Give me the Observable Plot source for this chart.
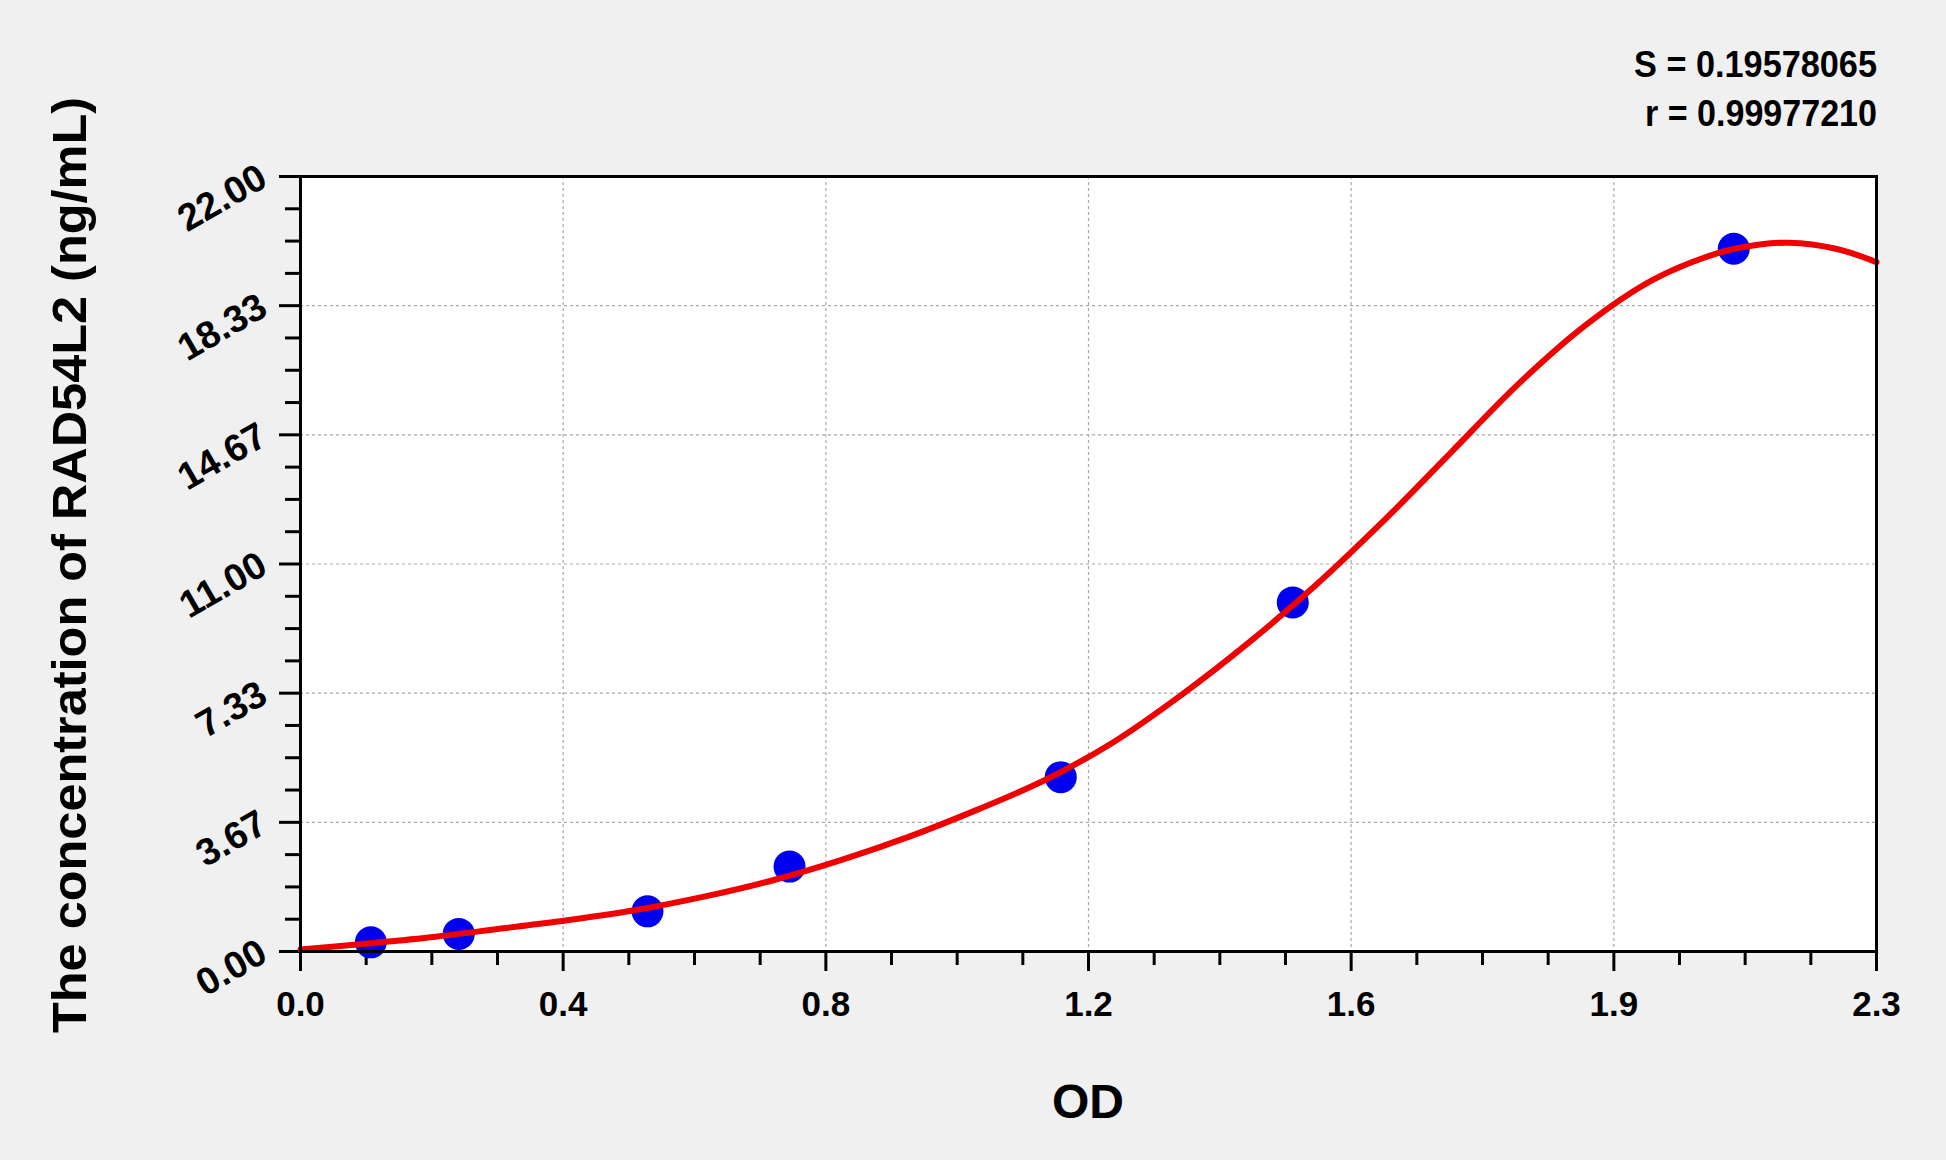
<!DOCTYPE html>
<html>
<head>
<meta charset="utf-8">
<script src="https://cdn.jsdelivr.net/npm/d3@7"></script>
<script src="https://cdn.jsdelivr.net/npm/@observablehq/plot@0.6"></script>
<style>
  html, body { margin: 0; padding: 0; background: #f0f0f0; overflow: hidden; }
  #chart svg { display: block; }
</style>
</head>
<body>
<div id="chart"></div>
<script>
// ---- data ----
const stdOD   = [0.104, 0.234, 0.513, 0.723, 1.124, 1.467, 2.119];
const stdConc = [0.26, 0.50, 1.14, 2.41, 4.95, 9.91, 19.95];

const curveOD   = [0, 0.1, 0.2, 0.3, 0.4, 0.5, 0.6, 0.7, 0.8, 0.9, 1.0, 1.1, 1.2, 1.3, 1.4, 1.5, 1.6, 1.7, 1.8, 1.9, 2.0, 2.1, 2.15, 2.2, 2.27, 2.33];
const curveConc = [0.06, 0.23, 0.42, 0.66, 0.90, 1.19, 1.57, 2.03, 2.60, 3.26, 4.02, 4.86, 5.92, 7.25, 8.74, 10.38, 12.20, 14.15, 16.10, 17.78, 19.07, 19.85, 20.05, 20.12, 19.95, 19.57];

const xTickValues = [0, 0.3883, 0.7767, 1.165, 1.5533, 1.9417, 2.33];
const xTickLabels = ["0.0", "0.4", "0.8", "1.2", "1.6", "1.9", "2.3"];
const yTickValues = [0, 3.6667, 7.3333, 11, 14.6667, 18.3333, 22];
const yTickLabels = ["0.00", "3.67", "7.33", "11.00", "14.67", "18.33", "22.00"];

const xTitle = "OD";
const yTitle = "The concentration of RAD54L2 (ng/mL)";
const statS = "S = 0.19578065";
const statR = "r = 0.99977210";

// ---- derived tables ----
const points = stdOD.map((x, i) => ({x, y: stdConc[i]}));
const curve = curveOD.map((x, i) => ({x, y: curveConc[i]}));
const xMinor = d3.range(0, 25).filter(i => i % 4 !== 0).map(i => 2.33 * i / 24);
const yMinor = d3.range(0, 25).filter(i => i % 4 !== 0).map(i => 22 * i / 24);

const font = "'Liberation Sans', Arial, Helvetica, sans-serif";

const chart = Plot.plot({
  width: 1946,
  height: 1160,
  marginLeft: 300,
  marginRight: 70,
  marginTop: 176,
  marginBottom: 209,
  style: {background: "#f0f0f0", fontFamily: font, color: "black", overflow: "visible"},
  x: {domain: [0, 2.33], label: null},
  y: {domain: [0, 22], label: null},
  marks: [
    Plot.frame({fill: "white", stroke: "none"}),
    Plot.gridX({ticks: xTickValues, stroke: "#a8a8a8", strokeOpacity: 1, strokeWidth: 1.2, strokeDasharray: "3,3"}),
    Plot.gridY({ticks: yTickValues, stroke: "#a8a8a8", strokeOpacity: 1, strokeWidth: 1.2, strokeDasharray: "3,3"}),
    Plot.axisX({ticks: xMinor, tickSize: 14, strokeWidth: 3, tickFormat: () => "", label: null}),
    Plot.axisX({ticks: xTickValues, tickSize: 20, strokeWidth: 3, tickPadding: 20,
      tickFormat: d => xTickLabels[xTickValues.indexOf(d)],
      fontSize: 35, fontWeight: "bold", label: null}),
    Plot.axisY({ticks: yMinor, tickSize: 15, strokeWidth: 3, tickFormat: () => "", label: null}),
    Plot.axisY({ticks: yTickValues, tickSize: 21, strokeWidth: 3, tickFormat: () => "", label: null}),
    Plot.text(yTickValues, {y: d => d, text: (d, i) => yTickLabels[i], frameAnchor: "left",
      dx: -37, dy: -2, rotate: -30, textAnchor: "end", lineAnchor: "middle",
      fontSize: 38, fontWeight: "bold", fill: "black"}),
    Plot.dot(points, {x: "x", y: "y", r: 16, fill: "#0000f0", stroke: "none"}),
    Plot.line(curve, {x: "x", y: "y", stroke: "#f00000", strokeWidth: 6, curve: "catmull-rom"}),
    Plot.frame({stroke: "black", strokeWidth: 3})
  ]
});

document.getElementById("chart").appendChild(chart);

// ---- titles and fit statistics ----
const svg = d3.select(chart);
svg.append("text")
  .attr("x", 1088).attr("y", 1118)
  .attr("text-anchor", "middle")
  .attr("font-family", font).attr("font-weight", "bold").attr("font-size", 48)
  .attr("fill", "black")
  .text(xTitle);

svg.append("text")
  .attr("transform", "translate(86,565) rotate(-90)")
  .attr("text-anchor", "middle")
  .attr("font-family", font).attr("font-weight", "bold").attr("font-size", 48)
  .attr("textLength", 936).attr("lengthAdjust", "spacingAndGlyphs")
  .attr("fill", "black")
  .text(yTitle);

svg.append("text")
  .attr("x", 1877).attr("y", 77)
  .attr("text-anchor", "end")
  .attr("font-family", font).attr("font-weight", "bold").attr("font-size", 37)
  .attr("textLength", 243).attr("lengthAdjust", "spacingAndGlyphs")
  .attr("fill", "black")
  .text(statS);

svg.append("text")
  .attr("x", 1877).attr("y", 126)
  .attr("text-anchor", "end")
  .attr("font-family", font).attr("font-weight", "bold").attr("font-size", 37)
  .attr("textLength", 232).attr("lengthAdjust", "spacingAndGlyphs")
  .attr("fill", "black")
  .text(statR);
</script>
</body>
</html>
